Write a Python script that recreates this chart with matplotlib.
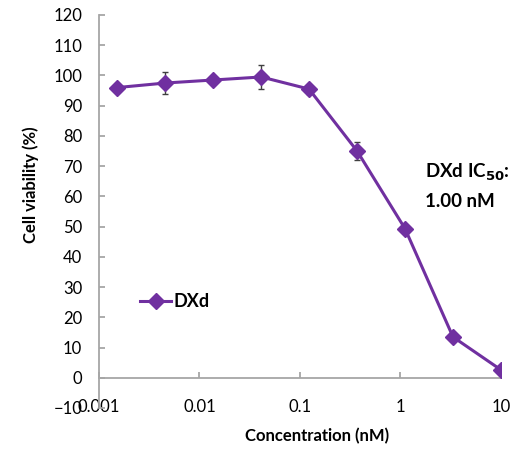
import matplotlib
matplotlib.use("Agg")
import matplotlib.pyplot as plt
from matplotlib.ticker import FixedLocator, NullLocator

plt.rcParams['font.family'] = ['Lato', 'DejaVu Sans']

conc = [0.00152, 0.00457, 0.0137, 0.0412, 0.123, 0.370, 1.11, 3.33, 10.0]
viability = [96.0, 97.5, 98.5, 99.5, 95.5, 75.0, 49.3, 13.5, 2.6]
errors = [1.0, 3.5, 1.0, 4.0, 1.5, 3.0, 1.0, 1.0, 1.0]
xticks = [0.001, 0.01, 0.1, 1, 10]
xticklabels = ['0.001', '0.01', '0.1', '1', '10']
yticks = list(range(-10, 121, 10))

purple = '#7030A0'

fig = plt.figure(figsize=(5.23, 4.49), dpi=100)
ax = fig.add_axes([99/523, 41/449, 402/523, 393/449])

ax.errorbar(conc, viability, yerr=errors, fmt='none', ecolor='#404040',
            elinewidth=1.0, capsize=2.5, capthick=1.0, zorder=2)
ax.plot(conc, viability, color=purple, lw=2.2, marker='D', markersize=8.5,
        markerfacecolor=purple, markeredgecolor=purple, zorder=3, label='DXd')

ax.set_xscale('log')
ax.set_xlim(0.001, 10)
ax.set_ylim(-10, 120)

ax.spines['top'].set_visible(False)
ax.spines['right'].set_visible(False)
ax.spines['bottom'].set_position(('data', 0))
for s in ('left', 'bottom'):
    ax.spines[s].set_color('#A6A6A6')
    ax.spines[s].set_linewidth(1.3)

ax.xaxis.set_major_locator(FixedLocator(xticks))
ax.xaxis.set_minor_locator(NullLocator())
ax.set_xticklabels(xticklabels)
ax.set_yticks(yticks)
ax.tick_params(axis='both', direction='in', color='#A6A6A6', width=1.3,
               length=4, labelsize=12, labelcolor='#000000')
ax.tick_params(axis='x', pad=15)
ax.tick_params(axis='y', pad=12)

ax.set_ylabel('Cell viability (%)', fontsize=12, fontweight='bold')
ax.yaxis.set_label_coords(-0.15, 0.567)
ax.set_xlabel('Concentration (nM)', fontsize=12, fontweight='bold')
ax.xaxis.set_label_coords(0.543, -0.052)

leg = ax.legend(loc='upper left', bbox_to_anchor=(0.085, 0.31), frameon=False,
                prop={'size': 13, 'weight': 'bold'}, handlelength=1.7,
                handletextpad=0.15, borderaxespad=0)

fig.text(425/523, 1 - 178/449, r'DXd IC$_{\mathbf{50}}$:', fontsize=13.5,
         fontweight='bold', ha='left', va='baseline')
fig.text(425/523, 1 - 207/449, '1.00 nM', fontsize=13.5,
         fontweight='bold', ha='left', va='baseline')

fig.savefig('out.png', dpi=100)
